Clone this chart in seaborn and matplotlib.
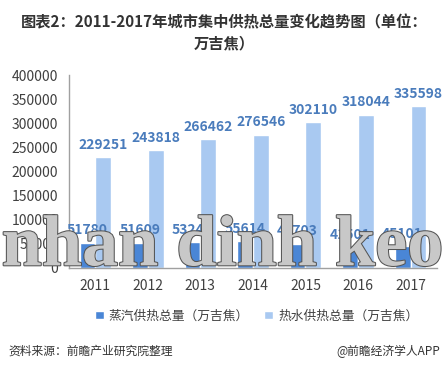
import matplotlib
matplotlib.use("Agg")
import matplotlib.pyplot as plt
import matplotlib.patheffects as pe
from matplotlib.patches import Patch
import seaborn as sns
import pandas as pd

years = ["2011", "2012", "2013", "2014", "2015", "2016", "2017"]
steam = [51780, 51609, 53242, 55614, 49703, 41501, 45101]
hot_water = [229251, 243818, 266462, 276546, 302110, 318044, 335598]
series_names = ["蒸汽供热总量（万吉焦）", "热水供热总量（万吉焦）"]
title = "图表2：2011-2017年城市集中供热总量变化趋势图（单位：\n万吉焦）"
source_text = "资料来源：前瞻产业研究院整理"
brand_text = "@前瞻经济学人APP"
overlay_text = "nhan dinh keo"

df = pd.DataFrame({
    "year": years * 2,
    "series": [series_names[0]] * len(years) + [series_names[1]] * len(years),
    "value": steam + hot_water,
})

sns.set_theme(style="white")
plt.rcParams["font.family"] = ["Noto Sans CJK SC", "DejaVu Sans"]

dark = "#4a86d6"
light = "#a9c9f1"
label_color = "#4a7cbc"
text_color = "#404040"

fig = plt.figure(figsize=(4.48, 3.70), dpi=100)
ax = fig.add_axes([0.154, 0.276, 0.821, 0.521])

sns.barplot(data=df, x="year", y="value", hue="series", palette=[dark, light],
            width=0.6, ax=ax, legend=False, saturation=1)

for cont in ax.containers:
    ax.bar_label(cont, fmt="%d", padding=4, color=label_color,
                 fontsize=10, fontweight="bold")

ax.set_ylim(0, 400000)
ax.set_yticks(range(0, 400001, 50000))
ax.set_yticklabels([str(v) for v in range(0, 400001, 50000)], fontsize=10, color=text_color)
ax.set_xlim(-0.5, len(years) - 0.5)
ax.set_xticks([i - 0.5 for i in range(len(years) + 1)], minor=False)
ax.set_xticklabels([])
ax.set_xticks(range(len(years)), minor=True)
ax.set_xticklabels(years, minor=True, fontsize=10, color=text_color)
ax.tick_params(axis="x", which="minor", length=0, pad=8)
ax.tick_params(axis="x", which="major", length=4, color="#a0a0a0", direction="out")
ax.tick_params(axis="y", length=5, color="#a0a0a0", direction="out", pad=3)
ax.set_xlabel("")
ax.set_ylabel("")
for s in ["top", "right"]:
    ax.spines[s].set_visible(False)
for s in ["left", "bottom"]:
    ax.spines[s].set_color("#a0a0a0")
    ax.spines[s].set_linewidth(1)

handles = [Patch(facecolor=dark), Patch(facecolor=light)]
fig.legend(handles, series_names, loc="center", bbox_to_anchor=(0.573, 0.146),
           ncol=2, frameon=False, fontsize=9.2, handlelength=0.7, handleheight=0.7,
           handletextpad=0.4, columnspacing=1.2, labelcolor=text_color)

fig.text(0.5, 0.96, title, ha="center", va="top", fontsize=11,
         fontweight="bold", color="#333333", linespacing=1.35)
fig.text(0.018, 0.051, source_text, ha="left", va="center", fontsize=8.5, color="#333333")
fig.text(0.982, 0.051, brand_text, ha="right", va="center", fontsize=8.5, color="#333333")

fig.text(0.497, 0.283, overlay_text, ha="center", va="baseline", fontsize=52,
         family="Liberation Serif", fontweight="bold", color="#c8c8c8", zorder=10,
         path_effects=[pe.withStroke(linewidth=1.5, foreground="#555555")])

fig.savefig("out.png", dpi=100)
